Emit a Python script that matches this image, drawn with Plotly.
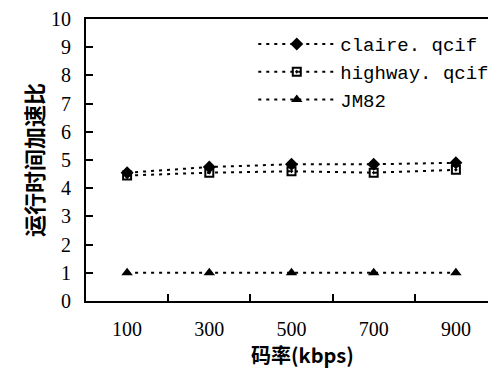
import plotly.graph_objects as go

rates = [100, 300, 500, 700, 900]
claire = [4.55, 4.75, 4.85, 4.85, 4.9]
highway = [4.45, 4.55, 4.6, 4.55, 4.65]
jm82 = [1, 1, 1, 1, 1]
yticks = list(range(0, 11))

fig = go.Figure()
line = dict(color="black", width=2, dash="3px,5px")
fig.add_trace(go.Scatter(x=rates, y=claire, name="claire. qcif", mode="lines+markers",
                         line=line, marker=dict(symbol="diamond", size=10, color="black")))
fig.add_trace(go.Scatter(x=rates, y=highway, name="highway. qcif", mode="lines+markers",
                         line=line, marker=dict(symbol="square-open-dot", size=8, color="black",
                                                line=dict(width=2, color="black"))))
fig.add_trace(go.Scatter(x=rates, y=jm82, name="JM82", mode="lines+markers",
                         line=line, marker=dict(symbol="triangle-up", size=10, color="black")))

serif = "Liberation Serif"
mono = "Liberation Mono"
cjk = "Noto Sans CJK SC"
# page body has an 8px margin, so the figure is sized/offset to compensate
fig.update_layout(
    width=488, height=363,
    margin=dict(l=78, r=0, t=11, b=70),
    paper_bgcolor="white", plot_bgcolor="white",
    font=dict(family=serif, size=20, color="black"),
    showlegend=True,
    legend=dict(x=0.408, y=0.978, xanchor="left", yanchor="top", bgcolor="rgba(0,0,0,0)",
                font=dict(family=mono, size=19), itemwidth=77, tracegroupgap=0),
    annotations=[dict(text="码率(kbps)", xref="paper", yref="paper", x=0.527, y=-0.19,
                      xanchor="center", yanchor="middle", showarrow=False,
                      font=dict(family=cjk, size=20, weight="bold", color="black"))],
)
fig.update_xaxes(
    range=[0, 1000 * 410 / 411], tickvals=rates, ticktext=[str(r) for r in rates],
    ticks="", showgrid=False, zeroline=False, automargin=False,
    showline=True, linecolor="black", linewidth=2, mirror=True, ticklabelstandoff=9,
    minor=dict(tickvals=[200, 400, 600, 800], ticks="inside", ticklen=7, tickwidth=2, tickcolor="black"),
    tickfont=dict(family=serif, size=20),
)
fig.update_yaxes(
    range=[0, 10], tickvals=yticks, ticks="inside", ticklen=7, tickwidth=2, tickcolor="black",
    showgrid=False, zeroline=False, showline=True, linecolor="black", linewidth=2,
    automargin=False, ticklabelstandoff=9,
    tickfont=dict(family=serif, size=20),
    title=dict(text="运行时间加速比", font=dict(family=cjk, size=22, weight="bold"), standoff=1),
)
fig.write_html("out.html")
